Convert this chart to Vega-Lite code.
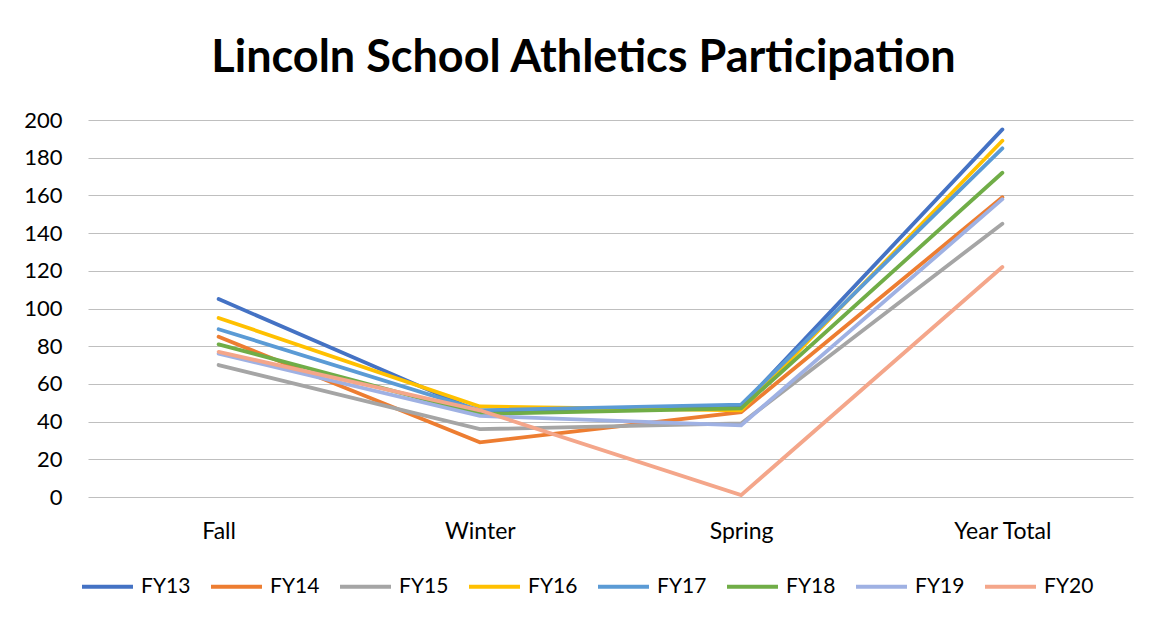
{
  "$schema": "https://vega.github.io/schema/vega-lite/v6.json",
  "autosize": {"type": "none"},
  "width": 1045,
  "height": 377,
  "padding": {"left": 88, "top": 120, "right": 19, "bottom": 123},
  "background": "white",
  "title": {
    "text": "Lincoln School Athletics Participation",
    "font": "Lato",
    "fontSize": 45,
    "fontWeight": "bold",
    "color": "#000000",
    "anchor": "middle",
    "dx": -27,
    "offset": 28
  },
  "data": {
    "values": [
      {"season": "Fall", "year": "FY13", "count": 105},
      {"season": "Winter", "year": "FY13", "count": 45},
      {"season": "Spring", "year": "FY13", "count": 48},
      {"season": "Year Total", "year": "FY13", "count": 195},
      {"season": "Fall", "year": "FY14", "count": 85},
      {"season": "Winter", "year": "FY14", "count": 29},
      {"season": "Spring", "year": "FY14", "count": 45},
      {"season": "Year Total", "year": "FY14", "count": 159},
      {"season": "Fall", "year": "FY15", "count": 70},
      {"season": "Winter", "year": "FY15", "count": 36},
      {"season": "Spring", "year": "FY15", "count": 39},
      {"season": "Year Total", "year": "FY15", "count": 145},
      {"season": "Fall", "year": "FY16", "count": 95},
      {"season": "Winter", "year": "FY16", "count": 48},
      {"season": "Spring", "year": "FY16", "count": 46},
      {"season": "Year Total", "year": "FY16", "count": 189},
      {"season": "Fall", "year": "FY17", "count": 89},
      {"season": "Winter", "year": "FY17", "count": 46},
      {"season": "Spring", "year": "FY17", "count": 49},
      {"season": "Year Total", "year": "FY17", "count": 185},
      {"season": "Fall", "year": "FY18", "count": 81},
      {"season": "Winter", "year": "FY18", "count": 44},
      {"season": "Spring", "year": "FY18", "count": 47},
      {"season": "Year Total", "year": "FY18", "count": 172},
      {"season": "Fall", "year": "FY19", "count": 76},
      {"season": "Winter", "year": "FY19", "count": 43},
      {"season": "Spring", "year": "FY19", "count": 38},
      {"season": "Year Total", "year": "FY19", "count": 158},
      {"season": "Fall", "year": "FY20", "count": 77},
      {"season": "Winter", "year": "FY20", "count": 46},
      {"season": "Spring", "year": "FY20", "count": 1},
      {"season": "Year Total", "year": "FY20", "count": 122}
    ]
  },
  "mark": {"type": "line", "strokeWidth": 3.8, "strokeCap": "round", "strokeJoin": "miter"},
  "encoding": {
    "x": {
      "field": "season",
      "type": "nominal",
      "sort": ["Fall", "Winter", "Spring", "Year Total"],
      "scale": {"padding": 0.5},
      "axis": {
        "title": null,
        "labelAngle": 0,
        "labelFont": "Lato",
        "labelFontSize": 23,
        "labelColor": "#000000",
        "labelPadding": 23,
        "ticks": false,
        "domain": false,
        "grid": false
      }
    },
    "y": {
      "field": "count",
      "type": "quantitative",
      "scale": {"domain": [0, 200], "nice": false},
      "axis": {
        "title": null,
        "values": [0, 20, 40, 60, 80, 100, 120, 140, 160, 180, 200],
        "labelFont": "Lato",
        "labelFontSize": 22,
        "labelColor": "#000000",
        "labelPadding": 26,
        "ticks": false,
        "domain": false,
        "grid": true,
        "gridColor": "#BFBFBF",
        "gridWidth": 1.2
      }
    },
    "color": {
      "field": "year",
      "type": "nominal",
      "scale": {
        "domain": ["FY13", "FY14", "FY15", "FY16", "FY17", "FY18", "FY19", "FY20"],
        "range": ["#4472C4", "#ED7D31", "#A5A5A5", "#FFC000", "#5B9BD5", "#70AD47", "#9FB1E3", "#F4A68A"]
      },
      "legend": {
        "title": null,
        "orient": "none",
        "direction": "horizontal",
        "columns": 8,
        "legendX": -8,
        "legendY": 439,
        "symbolType": "stroke",
        "symbolSize": 2600,
        "symbolStrokeWidth": 3.8,
        "labelFont": "Lato",
        "labelFontSize": 21,
        "labelColor": "#000000",
        "labelOffset": 6,
        "columnPadding": 12
      }
    }
  },
  "config": {"view": {"stroke": null}}
}
